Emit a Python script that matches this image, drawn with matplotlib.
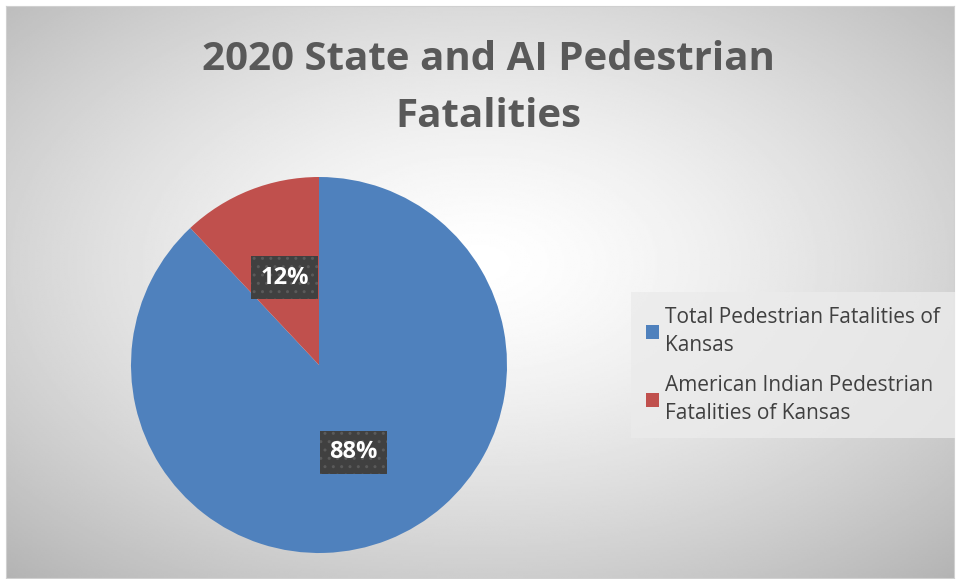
import numpy as np
import matplotlib.pyplot as plt
from matplotlib.patches import Patch

# data
labels = ["Total Pedestrian Fatalities of\nKansas",
          "American Indian Pedestrian\nFatalities of Kansas"]
shares = [88, 12]
colors = ["#4F81BD", "#C0504D"]
title = "2020 State and AI Pedestrian\nFatalities"

W, H = 957, 579
fig = plt.figure(figsize=(W / 100, H / 100), dpi=100)
fig.patch.set_facecolor("white")

# radial gradient background inside the chart frame
bg = fig.add_axes([6 / W, 1 - 578 / H, 948 / W, 572 / H])
yy, xx = np.mgrid[0:1:300j, 0:1:500j]
d = np.sqrt(((xx - 0.5) / 0.75) ** 2 + ((yy - 0.45) / 0.75) ** 2)
shade = 1.0 - 0.3 * np.clip(d, 0, 1) ** 1.4
bg.imshow(shade, cmap="gray", vmin=0, vmax=1, aspect="auto",
          extent=[0, 1, 0, 1], origin="upper")
bg.set_xticks([])
bg.set_yticks([])
for s in bg.spines.values():
    s.set_color("#d0d0d0")

fig.text(488 / W, 1 - 88 / H, title, ha="center", va="center",
         fontsize=29, fontweight="bold", color="#595959",
         family="Open Sans", linespacing=1.6)

# pie
ax = fig.add_axes([131 / W, 1 - 553 / H, 376 / W, 376 / H])
ax.set_facecolor("none")
wedges, texts, autotexts = ax.pie(
    shares, colors=colors, startangle=90, counterclock=False,
    autopct="%d%%", pctdistance=0.5, radius=1.0,
    wedgeprops=dict(linewidth=0),
    textprops=dict(color="white", fontsize=17, fontweight="bold",
                   family="Open Sans"),
)
for t in autotexts:
    t.set_bbox(dict(boxstyle="square,pad=0.4", facecolor="#404040",
                    edgecolor="#5a5a5a", hatch="..", linewidth=0))
ax.set_xlim(-1, 1)
ax.set_ylim(-1, 1)
ax.set_aspect("equal")

handles = [Patch(facecolor=c, edgecolor="none") for c in colors]
leg = fig.legend(handles, labels, loc="upper left",
                 bbox_to_anchor=(631 / W, 1 - 292 / H),
                 frameon=True, fancybox=False,
                 prop=dict(family="Open Sans", size=15),
                 handlelength=0.65, handleheight=0.65, handletextpad=0.3,
                 labelspacing=0.9, borderpad=0.7, borderaxespad=0)
leg.get_frame().set_facecolor("#ebebeb")
leg.get_frame().set_edgecolor("none")
leg.get_frame().set_alpha(0.8)
for t in leg.get_texts():
    t.set_color("#404040")
    t.set_linespacing(1.45)

fig.savefig("out.png", dpi=100)
